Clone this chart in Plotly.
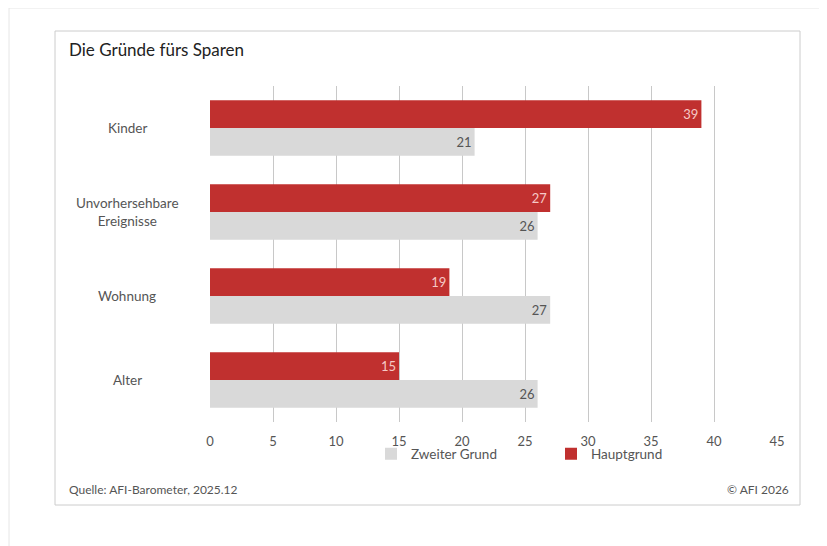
import plotly.graph_objects as go

categories = ["Kinder", "Unvorhersehbare<br>Ereignisse", "Wohnung", "Alter"]
hauptgrund = [39, 27, 19, 15]
zweiter_grund = [21, 26, 27, 26]
x_ticks = [0, 5, 10, 15, 20, 25, 30, 35, 40, 45]

# page body has an 8px margin, so the figure is drawn offset by (8, 8)
OFF = 8
W, H = 827, 546
L, R, T, B = 210, 777, 86, 422
FONT = "Lato, 'Source Sans Pro', 'Noto Sans', sans-serif"
RED = "#c0302f"
GRAY = "#d9d9d9"
TXT = "#555555"


def px(x):
    return (x - L) / (R - L)


def py(y):
    return (B - y) / (B - T)


fig = go.Figure()
fig.add_trace(go.Bar(
    y=categories, x=hauptgrund, orientation="h", name="Hauptgrund",
    marker=dict(color=RED, line=dict(width=0)),
    text=hauptgrund, textposition="inside", insidetextanchor="end",
    textfont=dict(color="#f6c9c6", size=13, family=FONT),
    legendrank=2, hoverinfo="x+name",
))
fig.add_trace(go.Bar(
    y=categories, x=zweiter_grund, orientation="h", name="Zweiter Grund",
    marker=dict(color=GRAY, line=dict(width=0)),
    text=zweiter_grund, textposition="inside", insidetextanchor="end",
    textfont=dict(color=TXT, size=13, family=FONT),
    legendrank=1, hoverinfo="x+name",
))

shapes = [
    dict(type="rect", xref="paper", yref="paper",
         x0=px(9), x1=px(835), y0=py(560), y1=py(8),
         line=dict(color="#e6e6e6", width=1), fillcolor="rgba(0,0,0,0)", layer="below"),
    dict(type="rect", xref="paper", yref="paper",
         x0=px(55), x1=px(800), y0=py(505), y1=py(31),
         line=dict(color="#cccccc", width=1), fillcolor="rgba(0,0,0,0)", layer="below"),
]

annotations = [
    dict(text="Die Gründe fürs Sparen", xref="paper", yref="paper",
         x=px(67), y=py(50), xanchor="left", yanchor="middle", showarrow=False,
         font=dict(size=17, color="#222222", family=FONT)),
    dict(text="Quelle: AFI-Barometer, 2025.12", xref="paper", yref="paper",
         x=px(67), y=py(489), xanchor="left", yanchor="middle", showarrow=False,
         font=dict(size=12, color=TXT, family=FONT)),
    dict(text="© AFI 2026", xref="paper", yref="paper",
         x=px(791), y=py(489), xanchor="right", yanchor="middle", showarrow=False,
         font=dict(size=12, color=TXT, family=FONT)),
]
for c in categories:
    annotations.append(dict(text=c, xref="paper", yref="y", x=px(127), y=c,
                            xanchor="center", yanchor="middle", showarrow=False,
                            align="center",
                            font=dict(size=13.5, color=TXT, family=FONT)))

fig.update_layout(
    width=W - OFF, height=H - OFF,
    margin=dict(l=L - OFF, r=W - R, t=T - OFF, b=H - B, pad=0),
    paper_bgcolor="white", plot_bgcolor="white",
    barmode="group", bargap=0.34, bargroupgap=0,
    font=dict(family=FONT, color=TXT, size=13),
    showlegend=True,
    legend=dict(orientation="h", x=px(371), y=py(454), xanchor="left", yanchor="middle",
                entrywidth=135, entrywidthmode="pixels",
                font=dict(size=13.5, color=TXT, family=FONT), bgcolor="rgba(0,0,0,0)"),
    xaxis=dict(range=[0, 45], tickvals=x_ticks, showgrid=True, gridcolor="#c8c8c8",
               gridwidth=1, zeroline=False, showline=False, ticks="",
               ticklabelstandoff=10,
               tickfont=dict(size=13, color=TXT, family=FONT), fixedrange=True),
    yaxis=dict(autorange="reversed", showticklabels=False, showgrid=False,
               zeroline=False, showline=False, ticks="", fixedrange=True),
    shapes=shapes, annotations=annotations,
)

fig.write_html("out.html")
